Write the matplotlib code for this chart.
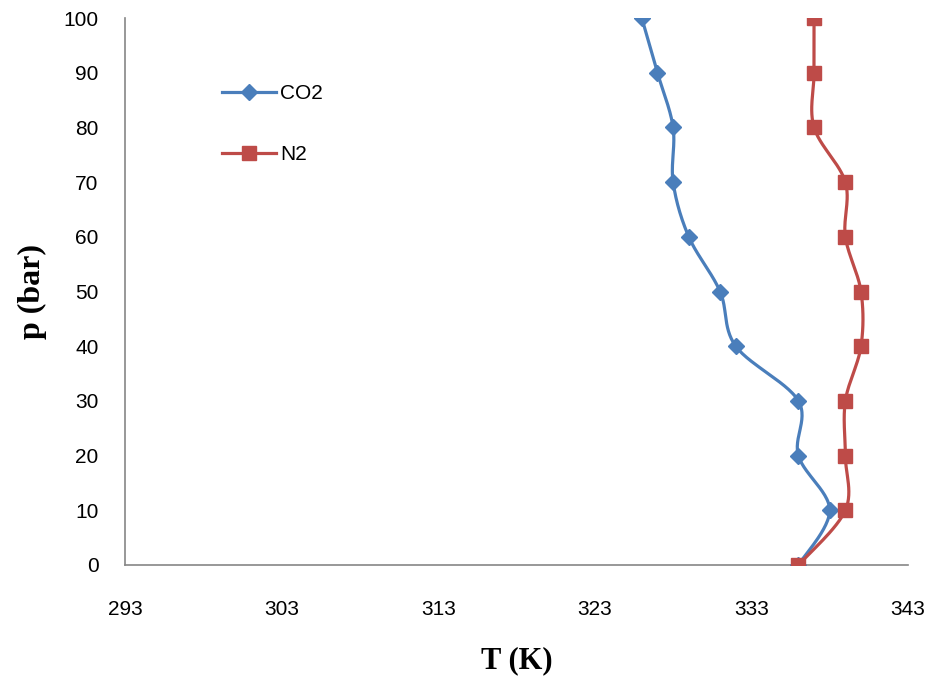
import numpy as np
import matplotlib
matplotlib.use('Agg')
import matplotlib.pyplot as plt

# data
pressure = [100, 90, 80, 70, 60, 50, 40, 30, 20, 10, 0]
t_co2 = [326, 327, 328, 328, 329, 331, 332, 336, 336, 338, 336]
t_n2 = [337, 337, 337, 339, 339, 340, 340, 339, 339, 339, 336]
x_ticks = [293, 303, 313, 323, 333, 343]
y_ticks = [0, 10, 20, 30, 40, 50, 60, 70, 80, 90, 100]


def smooth(xs, ys, n=30):
    # catmull-rom through the points, similar to excel's smoothed line
    p = np.column_stack([xs, ys]).astype(float)
    p = np.vstack([p[0], p, p[-1]])
    out = []
    for i in range(1, len(p) - 2):
        p0, p1, p2, p3 = p[i - 1], p[i], p[i + 1], p[i + 2]
        t = np.linspace(0, 1, n)[:, None]
        seg = 0.5 * ((2 * p1) + (-p0 + p2) * t
                     + (2 * p0 - 5 * p1 + 4 * p2 - p3) * t ** 2
                     + (-p0 + 3 * p1 - 3 * p2 + p3) * t ** 3)
        out.append(seg)
    out = np.vstack(out)
    return out[:, 0], out[:, 1]


fig = plt.figure(figsize=(9.29, 6.8), dpi=100)
ax = fig.add_axes([125 / 929, 1 - 565 / 680, (908 - 125) / 929, (565 - 18) / 680])

blue = '#4A7EBB'
red = '#BE4B48'

sx, sy = smooth(t_co2, pressure)
ax.plot(sx, sy, color=blue, lw=2.3, zorder=2)
ax.plot(t_co2, pressure, ls='none', marker='D', ms=8, color=blue, zorder=3)
sx, sy = smooth(t_n2, pressure)
ax.plot(sx, sy, color=red, lw=2.3, zorder=2)
ax.plot(t_n2, pressure, ls='none', marker='s', ms=10, color=red, zorder=3)

# legend handles
ax.plot([], [], color=blue, lw=2.3, marker='D', ms=8, label='CO2')
ax.plot([], [], color=red, lw=2.3, marker='s', ms=10, label='N2')
ax.legend(loc='upper left', bbox_to_anchor=(0.1, 0.913), frameon=False,
          handlelength=2.6, labelspacing=2.0, handletextpad=0.2,
          prop={'family': 'Liberation Sans', 'size': 15})

ax.set_xlim(293, 343)
ax.set_ylim(0, 100)
ax.set_xticks(x_ticks)
ax.set_yticks(y_ticks)
ax.tick_params(length=0, labelsize=15, colors='black')
ax.tick_params(axis='x', pad=25)
ax.tick_params(axis='y', pad=19)
for lab in ax.get_xticklabels() + ax.get_yticklabels():
    lab.set_family('Liberation Sans')

for s in ['top', 'right']:
    ax.spines[s].set_visible(False)
for s in ['left', 'bottom']:
    ax.spines[s].set_color('#868686')
    ax.spines[s].set_linewidth(1.2)

ax.set_xlabel('T (K)', fontsize=22, fontweight='bold', family='Liberation Serif', labelpad=20)
ax.set_ylabel('p (bar)', fontsize=23, fontweight='bold', family='Liberation Serif', labelpad=12)

fig.savefig('out.png', dpi=100)
